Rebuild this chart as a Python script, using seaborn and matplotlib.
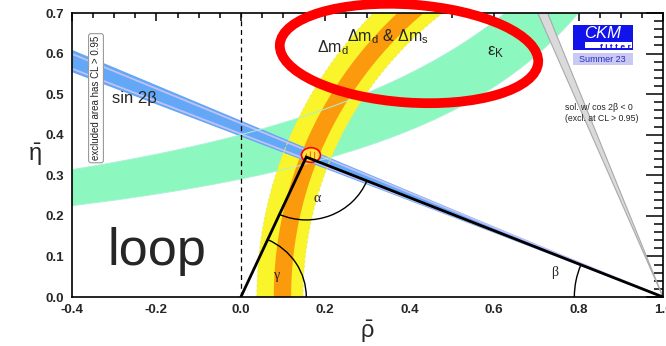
import numpy as np
import pandas as pd
import matplotlib
matplotlib.use("Agg")
import matplotlib.pyplot as plt
import seaborn as sns
from matplotlib.patches import Ellipse, Arc, Rectangle
from matplotlib.ticker import MultipleLocator, FormatStrFormatter

# ---------------------------------------------------------------- inputs
# unitarity triangle apex (rho-bar, eta-bar)
apex_rho, apex_eta = 0.155, 0.345
# best-fit contour around the apex: centre and size
fit_rho, fit_eta = 0.166, 0.350
fit_size = [0.045, 0.036]

# sin 2beta: slopes eta / (1 - rho) of the band edges
s2b_outer = [0.3964, 0.4357]
s2b_inner = [0.4020, 0.4280]
# second solution (cos 2beta < 0), excluded
s2b_alt = [2.36, 2.56]

# Delta m_d (yellow) and Delta m_d & Delta m_s (orange): radii around (1, 0)
dm_yellow = [0.853, 0.962]
dm_orange = [0.881, 0.922]
dm_eta_scale = 1.038

# epsilon_K: hyperbolic band  eta = k / (c - rho)
epsK_k = [0.398, 0.584]
epsK_c = [1.368, 1.460]

# angle arcs (radii)
r_gamma, r_alpha, r_beta = 0.155, 0.155, 0.21

x_ticks = [-0.4, -0.2, 0.0, 0.2, 0.4, 0.6, 0.8, 1.0]
y_ticks = [0.0, 0.1, 0.2, 0.3, 0.4, 0.5, 0.6, 0.7]

# ---------------------------------------------------------------- style
sns.set_theme(style="white")
plt.rcParams["font.family"] = ["Liberation Sans", "DejaVu Sans"]
plt.rcParams["mathtext.fontset"] = "custom"
plt.rcParams["mathtext.rm"] = "Liberation Sans"
plt.rcParams["mathtext.it"] = "Liberation Sans:italic"
plt.rcParams["mathtext.bf"] = "Liberation Sans:bold"
plt.rcParams["axes.unicode_minus"] = False
plt.rcParams["hatch.linewidth"] = 0.8

C_GREEN = "#8cf7be"
C_YELLOW = "#f9f52a"
C_ORANGE = "#fb9a0c"
C_BLUE = "#62a8f6"
C_LAV = "#c3c0f6"
C_GREY = "#dadada"

fig = plt.figure(figsize=(6.66, 3.46), dpi=100)
ax = fig.add_axes([0.1081, 0.1416, 0.8874, 0.8208])
ax.set_xlim(-0.4, 1.0)
ax.set_ylim(0.0, 0.7)

rho = np.linspace(-0.4, 1.0, 800)

# epsilon_K band
eps_lo = epsK_k[0] / (epsK_c[0] - rho)
eps_hi = epsK_k[1] / (epsK_c[1] - rho)
ax.fill_between(rho, eps_lo, eps_hi, color=C_GREEN, lw=0, zorder=1)


# Delta m rings around (1, 0)
def ring(r_in, r_out):
    th = np.linspace(0, np.pi / 2, 400)
    xo = 1 - r_out * np.cos(th)
    yo = dm_eta_scale * r_out * np.sin(th)
    xi = 1 - r_in * np.cos(th[::-1])
    yi = dm_eta_scale * r_in * np.sin(th[::-1])
    return np.concatenate([xo, xi]), np.concatenate([yo, yi])


for (r_in, r_out), col in [(dm_yellow, C_YELLOW), (dm_orange, C_ORANGE)]:
    px, py = ring(r_in, r_out)
    ax.fill(px, py, color=col, lw=0, zorder=2)

# sin 2beta band
ax.fill_between(rho, s2b_outer[0] * (1 - rho), s2b_outer[1] * (1 - rho),
                color=C_BLUE, lw=0, zorder=3)
for m in s2b_inner:
    ax.plot(rho, m * (1 - rho), color=C_LAV, lw=1.3, zorder=3.1)

# faint edges of the other constraints drawn across the blue band
ax.plot(rho, eps_lo, color="#a8f3d6", lw=0.7, zorder=3.2)
ax.plot(rho, eps_hi, color="#a8f3d6", lw=0.7, zorder=3.2)
th = np.linspace(0, np.pi / 2, 400)
for r in [dm_yellow[0], dm_yellow[1]]:
    ax.plot(1 - r * np.cos(th), dm_eta_scale * r * np.sin(th), color="#eeea5a",
            lw=0.7, ls=(0, (3, 2)), zorder=3.2)

# excluded second solution (cos 2beta < 0)
rr = np.linspace(0.6, 1.0, 200)
ax.fill_between(rr, s2b_alt[0] * (1 - rr), s2b_alt[1] * (1 - rr),
                color=C_GREY, lw=0, zorder=3.5)
for m in s2b_alt:
    ax.plot(rr, m * (1 - rr), color="#a9a9a9", lw=0.8, zorder=3.6)

# rho = 0 reference line
ax.axvline(0.0, color="black", lw=0.9, ls=(0, (4, 3)), zorder=4)

# best-fit region at the apex
ax.add_patch(Ellipse((fit_rho, fit_eta), fit_size[0], fit_size[1],
                     fc="#ffe23a", ec="red", lw=1.2, zorder=5))
ax.add_patch(Ellipse((fit_rho + 0.002, fit_eta - 0.002), fit_size[0] * 0.7,
                     fit_size[1] * 0.6, fill=False, ec="#f07010", lw=0,
                     hatch="||||", zorder=5.1))

# unitarity triangle
tri = pd.DataFrame({"rho": [0.0, apex_rho, 1.0], "eta": [0.0, apex_eta, 0.0]})
sns.lineplot(data=tri, x="rho", y="eta", sort=False, estimator=None,
             color="black", lw=2.0, ax=ax, zorder=6)
ax.lines[-1].set_solid_joinstyle("miter")

# angle arcs
gamma = np.degrees(np.arctan2(apex_eta, apex_rho))
beta = np.degrees(np.arctan2(apex_eta, 1 - apex_rho))
to_origin = np.degrees(np.arctan2(-apex_eta, -apex_rho)) % 360
to_one = np.degrees(np.arctan2(-apex_eta, 1 - apex_rho)) % 360
ax.add_patch(Arc((0, 0), 2 * r_gamma, 2 * r_gamma, theta1=0, theta2=gamma,
                 color="black", lw=1.0, zorder=6))
ax.add_patch(Arc((apex_rho, apex_eta), 2 * r_alpha, 2 * r_alpha,
                 theta1=to_origin, theta2=to_one, color="black", lw=1.0, zorder=6))
ax.add_patch(Arc((1, 0), 2 * r_beta, 2 * r_beta, theta1=180 - beta, theta2=180,
                 color="black", lw=1.0, zorder=6))

greek = dict(family=["Liberation Serif", "DejaVu Serif"], fontsize=10, zorder=7,
             ha="center", va="center")
ax.text(0.181, 0.244, "α", **greek)
ax.text(0.086, 0.052, "γ", **greek)
ax.text(0.743, 0.061, "β", **greek)

# constraint labels
ax.text(-0.305, 0.478, "sin 2β", fontsize=12, ha="left", va="baseline", zorder=7)
ax.text(0.252, 0.63, r"$\mathregular{\Delta m_d}$ & $\mathregular{\Delta m_s}$",
        fontsize=11.5, ha="left", va="baseline", zorder=7)
ax.text(0.181, 0.604, r"$\mathregular{\Delta m_d}$", fontsize=11.5, ha="left",
        va="baseline", zorder=7)
ax.text(0.584, 0.596, r"$\mathregular{\varepsilon_K}$", fontsize=12, ha="left",
        va="baseline", zorder=7)
ax.text(-0.315, 0.079, "loop", fontsize=37.5, ha="left", va="baseline", zorder=7)

ax.text(0.0406, 0.7, "excluded area has CL > 0.95", transform=ax.transAxes,
        rotation=90, fontsize=7, ha="center", va="center", color="#222222",
        zorder=8,
        bbox=dict(boxstyle="round,pad=0.25,rounding_size=0.25", fc="white",
                  ec="#9a9a9a", lw=0.8))
ax.text(0.834, 0.648, "sol. w/ cos 2β < 0\n(excl. at CL > 0.95)",
        transform=ax.transAxes, fontsize=6.3, ha="left", va="center",
        linespacing=1.15, zorder=8)

# CKMfitter badge
T = ax.transAxes
ax.add_patch(Rectangle((0.8477, 0.8697), 0.1015, 0.088, transform=T,
                       fc="#1212ea", ec="none", zorder=8, clip_on=False))
ax.add_patch(Rectangle((0.8680, 0.8767), 0.0790, 0.0210, transform=T,
                       fc="white", ec="none", zorder=8.1, clip_on=False))
ax.text(0.898, 0.912, "CKM", transform=T, color="white", fontsize=12,
        style="italic", ha="center", va="baseline", zorder=9)
ax.text(0.945, 0.880, "f i t t e r", transform=T, color="#1212ea", fontsize=6,
        fontweight="bold", ha="right", va="center", zorder=9)
ax.add_patch(Rectangle((0.8477, 0.817), 0.1015, 0.041, transform=T,
                       fc="#c9c9f2", ec="none", zorder=8, clip_on=False))
ax.text(0.898, 0.8375, "Summer 23", transform=T, color="#2a2ac8", fontsize=6.5,
        ha="center", va="center", zorder=9)

# axes, ticks
ax.xaxis.set_major_locator(MultipleLocator(0.2))
ax.xaxis.set_minor_locator(MultipleLocator(0.05))
ax.yaxis.set_major_locator(MultipleLocator(0.1))
ax.yaxis.set_minor_locator(MultipleLocator(0.02))
ax.set_xticks(x_ticks)
ax.set_yticks(y_ticks)
ax.xaxis.set_major_formatter(FormatStrFormatter("%.1f"))
ax.yaxis.set_major_formatter(FormatStrFormatter("%.1f"))
ax.tick_params(which="both", direction="in", top=True, right=True,
               color="black", width=1.1)
ax.tick_params(axis="x", which="major", length=6, pad=5, labelsize=9.6)
ax.tick_params(axis="x", which="minor", length=3.5)
ax.tick_params(axis="y", which="major", length=12, pad=6, labelsize=9.6)
ax.tick_params(axis="y", which="minor", length=6.5)
for lab in ax.get_xticklabels() + ax.get_yticklabels():
    lab.set_fontweight("bold")
for sp in ax.spines.values():
    sp.set_visible(True)
    sp.set_color("black")
    sp.set_linewidth(1.2)
    sp.set_zorder(10)

ax.set_xlabel(r"$\bar{\mathrm{\rho}}$", fontsize=17)
ax.xaxis.set_label_coords(0.5, -0.075)
ax.set_ylabel(r"$\bar{\mathrm{\eta}}$", fontsize=17, rotation=0, va="center",
              ha="center")
ax.yaxis.set_label_coords(-0.0626, 0.5)

# highlight ring around the mixing constraints
fig.add_artist(Ellipse((4.09, 2.925), 2.59, 0.98, angle=-4,
                       transform=fig.dpi_scale_trans, fill=False, ec="#ff0000",
                       lw=7, zorder=20))

fig.savefig("out.png", dpi=100)
